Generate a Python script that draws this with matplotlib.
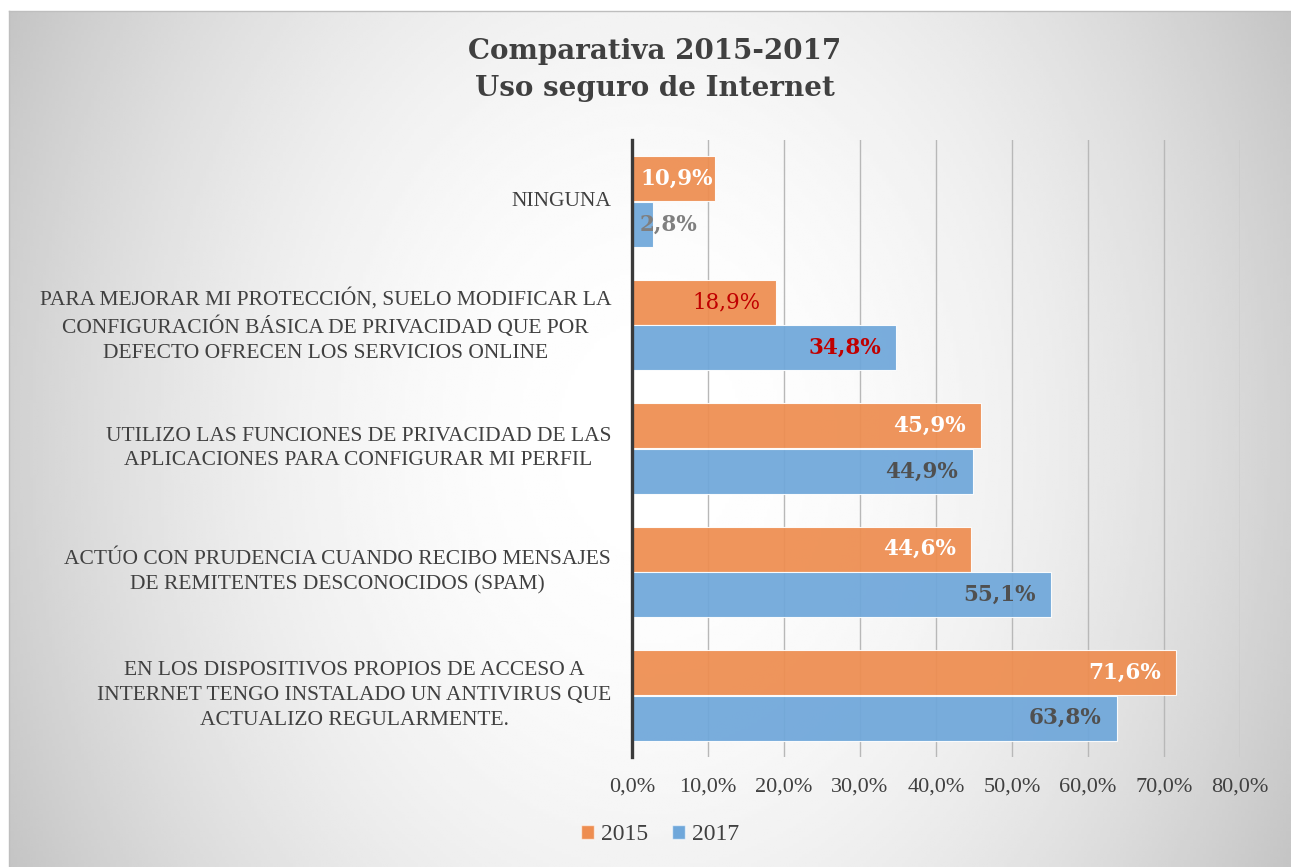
"""Comparativa 2015-2017: uso seguro de Internet (horizontal grouped bars)."""

import matplotlib
matplotlib.use("Agg")
import matplotlib.pyplot as plt
from matplotlib.patches import Patch
import numpy as np

categories = [
    "NINGUNA",
    "PARA MEJORAR MI PROTECCIÓN, SUELO MODIFICAR LA\nCONFIGURACIÓN BÁSICA DE PRIVACIDAD QUE POR\nDEFECTO OFRECEN LOS SERVICIOS ONLINE",
    "UTILIZO LAS FUNCIONES DE PRIVACIDAD DE LAS\nAPLICACIONES PARA CONFIGURAR MI PERFIL",
    "ACTÚO CON PRUDENCIA CUANDO RECIBO MENSAJES\nDE REMITENTES DESCONOCIDOS (SPAM)",
    "EN LOS DISPOSITIVOS PROPIOS DE ACCESO A\nINTERNET TENGO INSTALADO UN ANTIVIRUS QUE\nACTUALIZO REGULARMENTE.",
]
v2015 = [10.9, 18.9, 45.9, 44.6, 71.6]
v2017 = [2.8, 34.8, 44.9, 55.1, 63.8]
series = ["2015", "2017"]
xticks = [0, 10, 20, 30, 40, 50, 60, 70, 80]

# label styling per bar (colour, bold) - mirrors the source chart
lab2015 = [("white", True), ("#C00000", False), ("white", True), ("white", True), ("white", True)]
lab2017 = [("#7F7F7F", True), ("#C00000", True), ("#505050", True), ("#505050", True), ("#505050", True)]

ORANGE = "#EE8D50"
BLUE = "#6FA7DA"
TXT = "#404040"
W, H = 1291, 867
DPI = 100

fig = plt.figure(figsize=(W / DPI, H / DPI), dpi=DPI)
fig.patch.set_facecolor("white")

# radial-ish grey gradient background of the chart area
bg = fig.add_axes([9 / W, 0, 1 - 9 / W, 1 - 11 / H])
gx = np.linspace(-1, 1, 400)
gy = np.linspace(-1, 1, 300)
GX, GY = np.meshgrid(gx, gy)
grad = 1 - 0.18 * GX ** 2 - 0.05 * GY ** 2
bg.imshow(grad, cmap="gray", vmin=0, vmax=1, aspect="auto", extent=[0, 1, 0, 1])
bg.set_xlim(0, 1)
bg.set_ylim(0, 1)
bg.set_xticks([])
bg.set_yticks([])
for s in ("right", "bottom"):
    bg.spines[s].set_visible(False)
for s in ("top", "left"):
    bg.spines[s].set_color("#BEBEBE")
    bg.spines[s].set_linewidth(1)

ax = fig.add_axes([632 / W, 1 - 757 / H, (1240 - 632) / W, (757 - 140) / H])
ax.set_facecolor("none")

y = np.arange(len(categories))
h = 0.365
off = 0.185
ax.barh(y - off, v2015, height=h, color=ORANGE, alpha=0.93,
        edgecolor=(1, 1, 1, 0.6), linewidth=0.8, zorder=2)
ax.barh(y + off, v2017, height=h, color=BLUE, alpha=0.93,
        edgecolor=(1, 1, 1, 0.6), linewidth=0.8, zorder=2)

ax.set_xlim(0, 80)
ax.set_ylim(len(categories) - 0.5, -0.5)
ax.set_xticks(xticks)
ax.set_xticklabels([f"{t:.1f}%".replace(".", ",") for t in xticks],
                   family="Liberation Serif", fontsize=16, color=TXT)
ax.set_yticks(y)
ax.set_yticklabels(categories, family="Liberation Serif", fontsize=15.5,
                   color=TXT, multialignment="center", linespacing=1.42,
                   va="center")
ax.tick_params(axis="x", length=0, pad=15)
ax.tick_params(axis="y", length=0, pad=15)
ax.xaxis.grid(True, color="#B8B8B8", linewidth=1, zorder=0)
ax.set_axisbelow(True)
for s in ("top", "right", "bottom"):
    ax.spines[s].set_visible(False)
ax.spines["left"].set_color("#3A3A3A")
ax.spines["left"].set_linewidth(2.4)
ax.spines["left"].set_zorder(3)

# data labels at the inside end, pushed right if they would cross the axis
texts = []
for vals, labs, dy in ((v2015, lab2015, -off), (v2017, lab2017, off)):
    for i, (v, (col, bold)) in enumerate(zip(vals, labs)):
        t = ax.annotate(f"{v:.1f}%".replace(".", ","), (v, i + dy),
                        xytext=(-11, 0), textcoords="offset points",
                        ha="right", va="center", color=col,
                        family="DejaVu Serif", fontsize=15.5,
                        fontweight="bold" if bold else "normal", zorder=4)
        texts.append((t, v))

fig.canvas.draw()
r = fig.canvas.get_renderer()
ax_left = ax.get_window_extent(r).x0
for t, v in texts:
    bb = t.get_window_extent(r)
    if bb.x0 < ax_left + 8:
        bar_px = ax.transData.transform((v, 0))[0]
        t.xyann = ((ax_left + 8 + bb.width - bar_px) * 72 / DPI, 0)

fig.text(655 / W, 1 - 70 / H, "Comparativa 2015-2017\nUso seguro de Internet",
         ha="center", va="center", family="DejaVu Serif", fontweight="bold",
         fontsize=20, color=TXT, linespacing=1.5)

handles = [Patch(facecolor=ORANGE, edgecolor=(1, 1, 1, 0.6)),
           Patch(facecolor=BLUE, edgecolor=(1, 1, 1, 0.6))]
fig.legend(handles, series, loc="center", bbox_to_anchor=(660 / W, 1 - 835 / H),
           ncol=2, frameon=False, handlelength=0.55, handleheight=0.55,
           handletextpad=0.3, columnspacing=1.0,
           prop={"family": "Liberation Serif", "size": 17}, labelcolor=TXT)

fig.savefig("out.png", dpi=DPI)
